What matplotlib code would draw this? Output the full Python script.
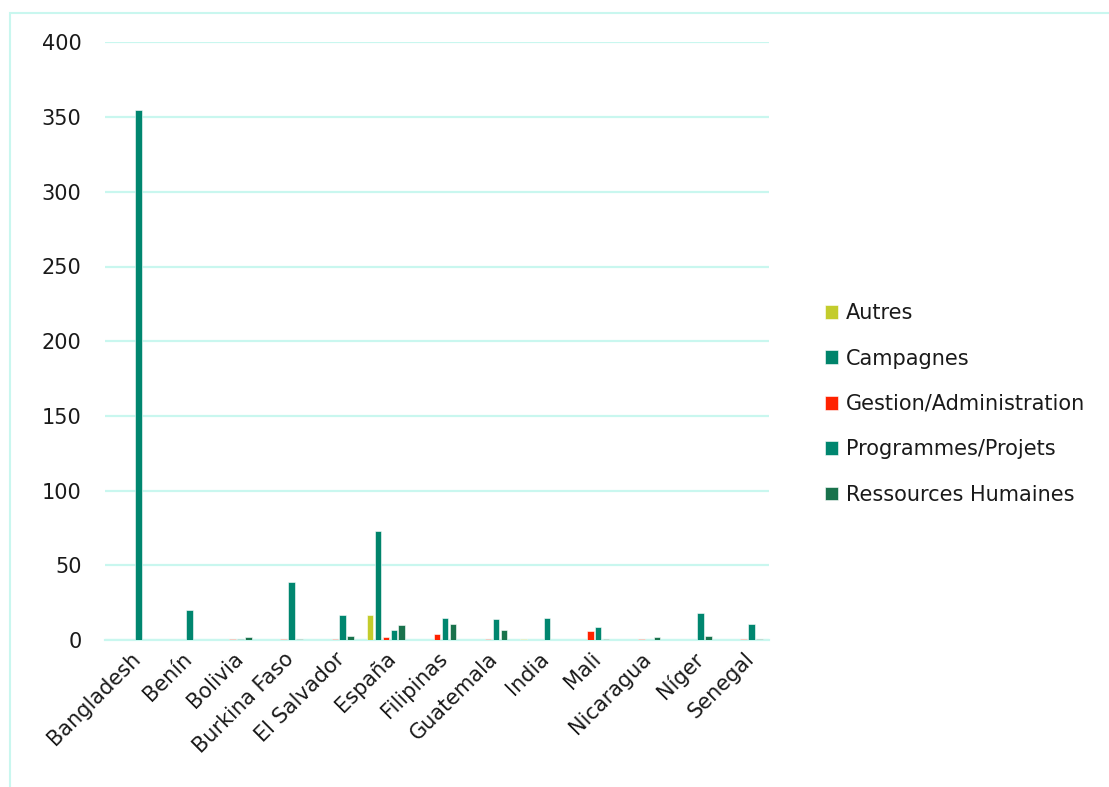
import numpy as np
import matplotlib
matplotlib.use("Agg")
import matplotlib.pyplot as plt
from matplotlib.patches import Rectangle

countries = ['Bangladesh', 'Benín', 'Bolivia', 'Burkina Faso', 'El Salvador', 'España',
             'Filipinas', 'Guatemala', 'India', 'Mali', 'Nicaragua', 'Níger', 'Senegal']

autres = [0, 0, 0, 0, 0, 17, 0, 0, 0.5, 0, 0, 0, 0]
campagnes = [0, 0, 0, 0, 0, 73, 0, 0, 0, 0, 0, 0, 0]
gestion = [0, 0, 0.6, 0.6, 0.6, 2, 4, 0.6, 0, 6, 0.6, 0, 0.6]
programmes = [355, 20, 1, 39, 17, 7, 15, 14, 15, 9, 0, 18, 11]
ressources = [0, 0, 2, 0.6, 3, 10, 11, 7, 0, 0.6, 2, 3, 0.6]

series = [
    ('Autres', autres, '#c3cc2c'),
    ('Campagnes', campagnes, '#00846b'),
    ('Gestion/Administration', gestion, '#ff2200'),
    ('Programmes/Projets', programmes, '#00866f'),
    ('Ressources Humaines', ressources, '#19724c'),
]

grid_color = '#c9f7ef'
text_color = '#1a1a1a'
fs = 15

plt.rcParams['font.family'] = ['DejaVu Sans']
plt.rcParams['font.size'] = fs

fig = plt.figure(figsize=(11.09, 7.87), dpi=100)
ax = fig.add_axes([105 / 1109, 147 / 787, 664 / 1109, 597.6 / 787])

x = np.arange(len(countries))
step = 0.155
width = 0.13
for i, (name, values, color) in enumerate(series):
    ax.bar(x + (i - 2) * step, values, width, color=color, label=name,
           edgecolor='white', linewidth=0.4, zorder=3)

ax.set_xlim(-0.5, len(countries) - 0.5)
ax.set_ylim(0, 400)
ax.set_yticks(np.arange(0, 401, 50))
ax.yaxis.grid(True, color=grid_color, linewidth=1.6, zorder=0)
ax.set_axisbelow(True)

for side in ['top', 'right', 'left']:
    ax.spines[side].set_visible(False)
ax.spines['bottom'].set_color(grid_color)
ax.spines['bottom'].set_linewidth(1.6)

ax.tick_params(axis='both', length=0, labelsize=fs, colors=text_color)
ax.tick_params(axis='y', pad=17)
ax.set_xticks(x)
ax.set_xticklabels(countries, rotation=45, ha='right', va='top',
                   rotation_mode='anchor')
ax.tick_params(axis='x', pad=6)

fig.legend(loc='center left', bbox_to_anchor=(806 / 1109, 1 - 404 / 787),
           frameon=False, fontsize=fs, handlelength=0.65, handleheight=0.65,
           handletextpad=0.35, labelspacing=1.22, labelcolor=text_color)

# light frame around the chart area
fig.patches.append(Rectangle((10 / 1109, -0.05), 1.2, 1.05 - 13 / 787,
                             transform=fig.transFigure, fill=False,
                             edgecolor=grid_color, linewidth=1.5))

fig.savefig('out.png', dpi=100)
